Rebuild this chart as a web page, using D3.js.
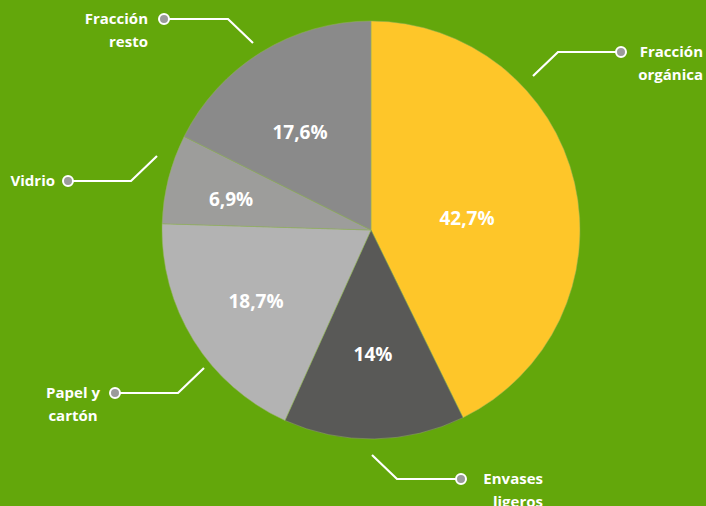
<!DOCTYPE html>
<html>
<head>
<meta charset="utf-8">
<script src="https://cdn.jsdelivr.net/npm/d3@7"></script>
<style>
  html, body { margin: 0; padding: 0; background: #63a70b; }
  svg { display: block; }
  text { font-family: "Open Sans", Lato, sans-serif; font-weight: 700; fill: #fff; }
</style>
</head>
<body>
<svg id="chart"></svg>
<script>
// data
const categories = ['Fracción orgánica', 'Envases ligeros', 'Papel y cartón', 'Vidrio', 'Fracción resto'];
const values = [42.7, 14, 18.7, 6.9, 17.6];
const valueLabels = ['42,7%', '14%', '18,7%', '6,9%', '17,6%'];
const labelLines = [['Fracción', 'orgánica'], ['Envases', 'ligeros'], ['Papel y', 'cartón'], ['Vidrio'], ['Fracción', 'resto']];
const colors = ['#fec629', '#595957', '#b3b3b3', '#9d9d9b', '#8a8a8a'];

const width = 706, height = 506;
const cx = 371, cy = 230, radius = 209;

const svg = d3.select('#chart')
  .attr('width', width)
  .attr('height', height);

const rows = categories.map((c, i) => ({ name: c, value: values[i], label: valueLabels[i], lines: labelLines[i], color: colors[i] }));

const pie = d3.pie().sort(null).value(d => d.value);
const arc = d3.arc().innerRadius(0).outerRadius(radius);
const arcs = pie(rows);

const g = svg.append('g').attr('transform', `translate(${cx},${cy})`);

g.selectAll('path.slice')
  .data(arcs)
  .enter()
  .append('path')
  .attr('class', 'slice')
  .attr('d', arc)
  .attr('fill', d => d.data.color)
  .attr('stroke', '#93b35a')
  .attr('stroke-width', 0.5);

// percentage labels, placed by hand like the original
const pctPos = [[96, -12], [2, 124], [-115, 71], [-140, -31], [-71, -98]];
g.selectAll('text.pct')
  .data(arcs)
  .enter()
  .append('text')
  .attr('class', 'pct')
  .attr('x', (d, i) => pctPos[i][0])
  .attr('y', (d, i) => pctPos[i][1])
  .attr('text-anchor', 'middle')
  .attr('dominant-baseline', 'central')
  .style('font-size', '19px')
  .text(d => d.data.label);

// callouts: dot, elbow and end of leader, plus text anchor
const callouts = [
  { dot: [621, 52], elbow: [558, 52], end: [533, 76], tx: 703, ty: 52, anchor: 'end' },
  { dot: [461, 479], elbow: [397, 479], end: [372, 455], tx: 543, ty: 479, anchor: 'end' },
  { dot: [115, 393], elbow: [178, 393], end: [204, 368], tx: 73, ty: 393, anchor: 'middle' },
  { dot: [68, 181], elbow: [131, 181], end: [157, 156], tx: 55, ty: 181, anchor: 'end' },
  { dot: [164, 19], elbow: [228, 19], end: [253, 43], tx: 148, ty: 19, anchor: 'end' }
];

const co = svg.selectAll('g.callout')
  .data(rows)
  .enter()
  .append('g')
  .attr('class', 'callout');

co.append('polyline')
  .attr('points', (d, i) => [callouts[i].dot, callouts[i].elbow, callouts[i].end].map(p => p.join(',')).join(' '))
  .attr('fill', 'none')
  .attr('stroke', '#fff')
  .attr('stroke-width', 2.2);

co.append('circle')
  .attr('cx', (d, i) => callouts[i].dot[0])
  .attr('cy', (d, i) => callouts[i].dot[1])
  .attr('r', 5)
  .attr('fill', '#9b9b9b')
  .attr('stroke', '#fff')
  .attr('stroke-width', 2);

co.each(function(d, i) {
  const c = callouts[i];
  const t = d3.select(this).append('text')
    .attr('text-anchor', c.anchor)
    .style('font-size', '15px');
  d.lines.forEach((line, k) => {
    t.append('tspan')
      .attr('x', c.tx)
      .attr('y', c.ty + k * 23)
      .attr('dy', '0.35em')
      .text(line);
  });
});
</script>
</body>
</html>
